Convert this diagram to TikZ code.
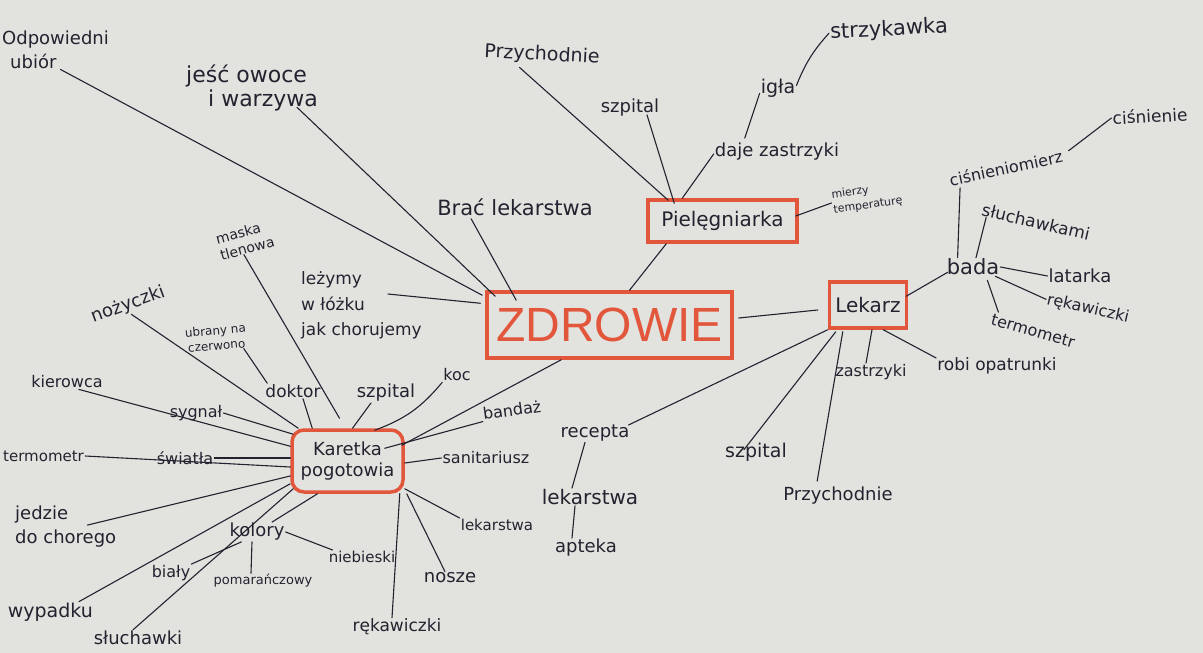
\documentclass[tikz,border=0pt]{standalone}
\usepackage{fontspec}
\newfontfamily\hand{DejaVu Sans}
\newfontfamily\bigsans{Liberation Sans}
\usetikzlibrary{calc}
\definecolor{paper}{RGB}{226,226,223}
\definecolor{ink}{RGB}{35,35,48}
\definecolor{marker}{RGB}{226,86,60}
\tikzset{
  lbl/.style={text=ink, inner sep=1pt, font=\hand\fontsize{#1}{#1}\selectfont},
  lbl/.default=17,
  conn/.style={draw=ink, line width=1.1pt, line cap=round},
  redbox/.style={draw=marker, line width=3.5pt},
}
\begin{document}
\begin{tikzpicture}[x=1pt,y=-1pt]
\useasboundingbox (0,0) rectangle (1203,653);
\clip (0,0) rectangle (1203,653);
\fill[paper] (0,0) rectangle (1203,653);

% central topic
\node[redbox, minimum width=245pt, minimum height=66pt, text=marker, inner sep=0pt,
      font=\bigsans\fontsize{48}{48}\selectfont] (zd) at (609.5,325) {ZDROWIE};

% top-left
\node[lbl=18, align=left, anchor=north west] (ubior) at (1,30) {Odpowiedni\\[4pt]\hspace*{8pt}ubiór};
\node[lbl=22, align=left] (owoce) at (252,88) {jeść owoce\\[2pt]\hspace*{22pt}i warzywa};
\node[lbl=21] (brac) at (515,207) {Brać lekarstwa};
\node[lbl=17, align=left, anchor=west] (lez) at (300,305) {leżymy\\[8pt]w łóżku\\[8pt]jak chorujemy};

% Pielęgniarka
\node[lbl=20, redbox, minimum width=149pt, minimum height=42pt] (piel) at (722.5,221) {Pielęgniarka};
\node[lbl=19, rotate=-3] (przy1) at (542,55) {Przychodnie};
\node[lbl=18] (szp1) at (630,108) {szpital};
\node[lbl=19] (igla) at (778,88) {igła};
\node[lbl=21, rotate=3] (strzyk) at (889,30) {strzykawka};
\node[lbl=18] (daje) at (777,152) {daje zastrzyki};
\node[lbl=11, align=left, rotate=8] (mierzy) at (867,198) {mierzy\\[4pt]temperaturę};

% Lekarz
\node[lbl=20, redbox, minimum width=77pt, minimum height=46pt] (lekarz) at (868,305) {Lekarz};
\node[lbl=16, rotate=12] (cisnm) at (1006,168) {ciśnieniomierz};
\node[lbl=17, rotate=3] (cisn) at (1150,116) {ciśnienie};
\node[lbl=17, rotate=-13] (sluch) at (1036,222) {słuchawkami};
\node[lbl=21] (bada) at (973,267) {bada};
\node[lbl=18] (latarka) at (1080,276) {latarka};
\node[lbl=16, rotate=-13] (rekaw1) at (1088,309) {rękawiczki};
\node[lbl=16, rotate=-16] (termo1) at (1033,331) {termometr};
\node[lbl=16] (zastrz) at (871,372) {zastrzyki};
\node[lbl=17] (robi) at (997,366) {robi opatrunki};
\node[lbl=19] (szp2) at (756,452) {szpital};
\node[lbl=18] (przy2) at (838,496) {Przychodnie};
\node[lbl=18] (recepta) at (595,433) {recepta};
\node[lbl=20] (lek1) at (590,497) {lekarstwa};
\node[lbl=18] (apteka) at (586,548) {apteka};

% Karetka pogotowia
\node[lbl=18, redbox, align=center, rounded corners=12pt, minimum width=111pt, minimum height=62pt] (karetka) at (347.5,461) {Karetka\\[3pt]pogotowia};
\node[lbl=16, rotate=8] (bandaz) at (512,410) {bandaż};
\node[lbl=16] (sanit) at (486,458) {sanitariusz};
\node[lbl=15] (lek2) at (497,525) {lekarstwa};
\node[lbl=18] (nosze) at (450,578) {nosze};
\node[lbl=17] (rekaw2) at (397,627) {rękawiczki};
\node[lbl=14, align=left, rotate=15] (maska) at (245,240) {maska\\[3pt]tlenowa};
\node[lbl=18, rotate=20] (nozyczki) at (128,305) {nożyczki};
\node[lbl=12, align=center, rotate=5] (ubrany) at (216,338) {ubrany na\\[3pt]czerwono};
\node[lbl=16] (kier) at (67,382) {kierowca};
\node[lbl=17] (doktor) at (293,391) {doktor};
\node[lbl=18] (szp3) at (386,393) {szpital};
\node[lbl=16] (koc) at (457,375) {koc};
\node[lbl=16] (sygnal) at (196,413) {sygnał};
\node[lbl=16] (swiatla) at (185,458) {światła};
\node[lbl=15, anchor=west] (termo2) at (2,456) {termometr};
\node[lbl=18, align=left, anchor=west] (jedzie) at (14,527) {jedzie\\[6pt]do chorego};
\node[lbl=18] (kolory) at (257,532) {kolory};
\node[lbl=16] (bialy) at (171,573) {biały};
\node[lbl=13] (pomar) at (263,581) {pomarańczowy};
\node[lbl=15] (nieb) at (362,557) {niebieski};
\node[lbl=19, anchor=east] (wypadku) at (94,612) {wypadku};
\node[lbl=18] (sluch2) at (138,638) {słuchawki};

% connectors to ZDROWIE
\draw[conn] ($(ubior.south)+(5,0)$) -- ($(zd.north west)+(-3,5)$);
\draw[conn] ($(owoce.south)+(45,-5)$) -- ($(zd.north west)+(10,6)$);
\draw[conn] ($(brac.south west)+(35,2)$) -- ($(zd.north west)+(31,10)$);
\draw[conn] ($(lez.north west)+(88,24)$) -- ($(zd.north west)+(-5,13)$);
\draw[conn] ($(piel.south west)+(20,0)$) -- ($(zd.north)+(20,0)$);
\draw[conn] ($(zd.east)+(5,-7)$) -- ($(lekarz.west)+(-10,5)$);
\draw[conn] ($(zd.south west)+(76,0)$) -- ($(karetka.north east)+(-3,17)$);

% Pielęgniarka branch
\draw[conn] ($(przy1.south)+(-22,2)$) -- ($(piel.north west)+(22,2)$);
\draw[conn] ($(szp1.south)+(17,-3)$) -- ($(piel.north west)+(28,5)$);
\draw[conn] ($(daje.south west)+(0,-8)$) -- ($(piel.north west)+(36,0)$);
\draw[conn] ($(igla.south west)+(0,-5)$) -- ($(daje.north west)+(31,-4)$);
\draw[conn] (strzyk.west) to[bend right=10] ($(igla.north east)+(0,8)$);
\draw[conn] (mierzy.west) -- ($(piel.east)+(-3,-5)$);

% Lekarz branch
\draw[conn] ($(lekarz.north east)+(-2,16)$) -- ($(bada.south west)+(2,-4)$);
\draw[conn] ($(cisnm.south west)+(10,0)$) -- ($(bada.north west)+(12,0)$);
\draw[conn] ($(cisnm.east)+(5,-5)$) -- (cisn.west);
\draw[conn] ($(sluch.west)+(5,8)$) -- ($(bada.north)+(3,0)$);
\draw[conn] (bada.east) -- (latarka.west);
\draw[conn] ($(bada.south east)+(-5,0)$) -- (rekaw1.west);
\draw[conn] ($(bada.south east)+(-13,4)$) -- ($(termo1.north west)+(6,0)$);
\draw[conn] ($(lekarz.south)+(4,0)$) -- ($(zastrz.north)+(-5,0)$);
\draw[conn] ($(lekarz.south east)+(-25,0)$) -- ($(robi.west)+(0,-8)$);
\draw[conn] (lekarz.south west) -- ($(recepta.east)+(-2,-8)$);
\draw[conn] ($(lekarz.south west)+(8,2)$) -- ($(szp2.north west)+(20,8)$);
\draw[conn] ($(lekarz.south west)+(15,2)$) -- ($(przy2.north west)+(35,-5)$);
\draw[conn] ($(recepta.south)+(-10,0)$) -- ($(lek1.north)+(-18,0)$);
\draw[conn] ($(lek1.south)+(-15,0)$) -- ($(apteka.north)+(-14,0)$);

% Karetka branch
\draw[conn] (bandaz.south west) -- ($(karetka.north east)+(-20,20)$);
\draw[conn] (sanit.west) -- ($(karetka.east)+(0,2)$);
\draw[conn] (lek2.north west) -- ($(karetka.south east)+(0,-5)$);
\draw[conn] ($(nosze.north)+(-5,0)$) -- ($(karetka.south east)+(2,0)$);
\draw[conn] ($(rekaw2.north)+(-5,0)$) -- ($(karetka.south east)+(-5,0)$);
\draw[conn] (kolory.east) -- ($(nieb.north west)+(5,0)$);
\draw[conn] ($(kolory.north)+(15,0)$) -- ($(karetka.south)+(-30,0)$);
\draw[conn] ($(kolory.south west)+(13,0)$) -- (bialy.north east);
\draw[conn] ($(kolory.south)+(-5,0)$) -- ($(pomar.north)+(-12,0)$);
\draw[conn] ($(sluch2.north)+(-5,0)$) -- ($(karetka.south west)+(3,-5)$);
\draw[conn] ($(wypadku.north east)+(-15,0)$) -- ($(karetka.south west)+(0,-10)$);
\draw[conn] ($(jedzie.north east)+(-30,20)$) -- ($(karetka.west)+(0,15)$);
\draw[conn] (termo2.east) -- ($(karetka.west)+(0,6)$);
\draw[conn] (swiatla.east) -- ($(karetka.west)+(0,-3)$);
\draw[conn] ($(kier.south east)+(-25,0)$) -- ($(karetka.north west)+(0,18)$);
\draw[conn] (sygnal.east) -- ($(karetka.north west)+(3,6)$);
\draw[conn] (nozyczki.south) -- ($(karetka.north west)+(8,0)$);
\draw[conn] ($(ubrany.south east)+(-5,0)$) -- ($(doktor.north west)+(3,0)$);
\draw[conn] ($(doktor.south)+(10,0)$) -- ($(karetka.north west)+(22,0)$);
\draw[conn] ($(maska.south)+(-5,0)$) -- ($(karetka.north)+(-8,-10)$);
\draw[conn] ($(szp3.south)+(-15,0)$) -- ($(karetka.north)+(5,0)$);
\draw[conn] (koc.south west) to[bend left=15] ($(karetka.north east)+(-30,2)$);
\end{tikzpicture}
\end{document}
